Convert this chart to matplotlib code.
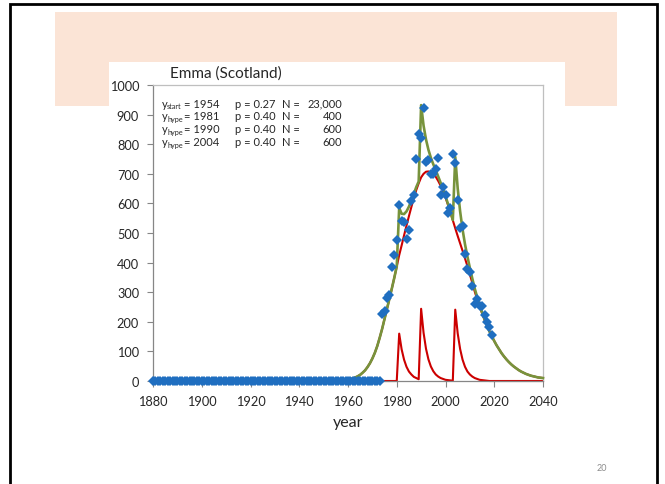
import matplotlib
matplotlib.use('Agg')
import matplotlib.pyplot as plt
from matplotlib.patches import Rectangle
from matplotlib.lines import Line2D

# ---------------- data ----------------
obs_years = list(range(1880, 2020))
obs_values = [0] * (1974 - 1880) + [
    226, 236, 280, 290, 386, 427, 476, 596, 539, 537,      # 1974-1983
    480, 511, 607, 627, 750, 836, 822, 921, 740, 745,      # 1984-1993
    700, 700, 715, 755, 627, 654, 630, 568, 586, 766,      # 1994-2003
    737, 613, 517, 525, 430, 379, 368, 320, 260, 277,      # 2004-2013
    252, 254, 223, 198, 184, 156]                          # 2014-2019

model_years = list(range(1955, 2041))
main_values = [
    0, 1, 1, 2, 3, 4, 6, 9, 12, 16,                        # 1955-1964
    21, 28, 36, 47, 60, 76, 95, 118, 146, 176,             # 1965-1974
    210, 244, 278, 313, 349, 387, 425, 458, 492, 525,      # 1975-1984
    557, 588, 618, 645, 668, 688, 700, 707, 708, 705,      # 1985-1994
    699, 690, 676, 660, 641, 620, 596, 570, 543, 516,      # 1995-2004
    490, 465, 440, 414, 388, 360, 331, 302, 276, 252,      # 2005-2014
    229, 207, 187, 168, 151, 135, 120, 107, 94, 83,        # 2015-2024
    73, 64, 56, 49, 43, 37, 32, 28, 24, 21,                # 2025-2034
    18, 16, 14, 12, 11, 10]                                # 2035-2040

total_values = [
    0, 1, 1, 2, 3, 4, 6, 9, 12, 16,                        # 1955-1964
    21, 28, 36, 47, 60, 76, 95, 118, 146, 176,             # 1965-1974
    210, 244, 278, 313, 349, 387, 585, 565, 564, 573,      # 1975-1984
    589, 610, 632, 655, 674, 932, 863, 816, 781, 754,      # 1985-1994
    732, 712, 691, 670, 648, 624, 599, 572, 544, 757,      # 1995-2004
    651, 573, 512, 462, 420, 382, 346, 312, 283, 256,      # 2005-2014
    232, 209, 188, 168, 151, 135, 120, 107, 94, 83,        # 2015-2024
    73, 64, 56, 49, 43, 37, 32, 28, 24, 21,                # 2025-2034
    18, 16, 14, 12, 11, 10]                                # 2035-2040

hype_years = [1880] + list(range(1973, 2041))
hype_values = [0, 0, 0, 0, 0, 0, 0, 0,                     # 1880, 1973-1979
    0, 160, 107, 72, 48, 32, 22, 14, 10, 6,                # 1980-1989
    244, 163, 109, 73, 49, 33, 22, 15, 10, 7,              # 1990-1999
    4, 3, 2, 1, 241, 161, 108, 72, 48, 32,                 # 2000-2009
    22, 15, 10, 7, 4, 3, 2, 1, 0, 0,                       # 2010-2019
    0, 0, 0, 0, 0, 0, 0, 0, 0, 0,                          # 2020-2029
    0, 0, 0, 0, 0, 0, 0, 0, 0, 0, 0]                       # 2030-2040

x_ticks = [1880, 1900, 1920, 1940, 1960, 1980, 2000, 2020, 2040]
y_ticks = [0, 100, 200, 300, 400, 500, 600, 700, 800, 900, 1000]

title = "Emma (Scotland)"
param_subs = ["start", "hype", "hype", "hype"]
param_years = ["1954", "1981", "1990", "2004"]
param_p = ["0.27", "0.40", "0.40", "0.40"]
param_N = ["23,000", "400", "600", "600"]

# ---------------- figure ----------------
W, H = 665, 485
FONT = ['Lato', 'DejaVu Sans']
plt.rcParams['font.family'] = FONT


def fx(x):
    return x / W


def fy(y):
    return 1 - y / H


fig = plt.figure(figsize=(W / 100, H / 100), dpi=100)
fig.patch.set_facecolor('white')

# slide decorations
fig.patches.append(Rectangle((fx(55), fy(107)), fx(617) - fx(55), fy(13) - fy(107),
                             transform=fig.transFigure, facecolor='#FBE4D6',
                             edgecolor='none', zorder=-3))
fig.patches.append(Rectangle((fx(109), fy(450)), fx(565) - fx(109), fy(63) - fy(450),
                             transform=fig.transFigure, facecolor='white',
                             edgecolor='none', zorder=-2))
fig.lines.append(Line2D([fx(10), fx(10), fx(657), fx(657)],
                        [fy(495), fy(5), fy(5), fy(495)],
                        transform=fig.transFigure, color='black', lw=2.0,
                        solid_joinstyle='miter', zorder=5))

ax = fig.add_axes([fx(153), fy(382), fx(543) - fx(153), fy(86) - fy(382)])
ax.set_facecolor('white')

ax.plot(model_years, main_values, color='#CC0000', lw=1.5, zorder=2, clip_on=False)
ax.plot(hype_years, hype_values, color='#CC0000', lw=1.5, zorder=2, clip_on=False)
ax.plot(model_years, total_values, color='#77933C', lw=1.9, zorder=3, clip_on=False)
ax.plot(obs_years, obs_values, linestyle='none', marker='D', markersize=5.0,
        color='#1F6EC0', markeredgewidth=0, zorder=4, clip_on=False)

ax.set_xlim(1880, 2040)
ax.set_ylim(0, 1000)
ax.set_xticks(x_ticks)
ax.set_yticks(y_ticks)
ax.tick_params(axis='both', labelsize=9.2, length=4, width=0.8, color='#868686',
               labelcolor='#262626', direction='out')
ax.tick_params(axis='x', pad=6)
ax.tick_params(axis='y', pad=6)
for s in ['left', 'bottom']:
    ax.spines[s].set_color('#868686')
    ax.spines[s].set_linewidth(0.9)
for s in ['top', 'right']:
    ax.spines[s].set_color('#BFBFBF')
    ax.spines[s].set_linewidth(0.9)
ax.set_xlabel('year', fontsize=11.5, color='#262626', labelpad=6)

# title
fig.text(fx(170), fy(74), title, fontsize=11, color='#262626', ha='left', va='center')

# parameter block
row_y = [104, 117, 130, 143]
for i in range(4):
    yy = fy(row_y[i])
    fig.text(fx(161.5), yy, 'y', fontsize=8, color='#262626', ha='left', va='center')
    fig.text(fx(167), fy(row_y[i] + 2.5), param_subs[i], fontsize=5.2, color='#262626',
             ha='left', va='center')
    fig.text(fx(184), yy, '= ' + param_years[i], fontsize=8, color='#262626',
             ha='left', va='center')
    fig.text(fx(235), yy, 'p = ' + param_p[i], fontsize=8, color='#262626',
             ha='left', va='center')
    fig.text(fx(282), yy, 'N =', fontsize=8, color='#262626', ha='left', va='center')
    fig.text(fx(342), yy, param_N[i], fontsize=8, color='#262626', ha='right', va='center')

# page number
fig.text(fx(602), fy(469), '20', fontsize=6.5, color='#8C8C8C', ha='center', va='center')

fig.savefig('out.png', dpi=100, facecolor='white')
